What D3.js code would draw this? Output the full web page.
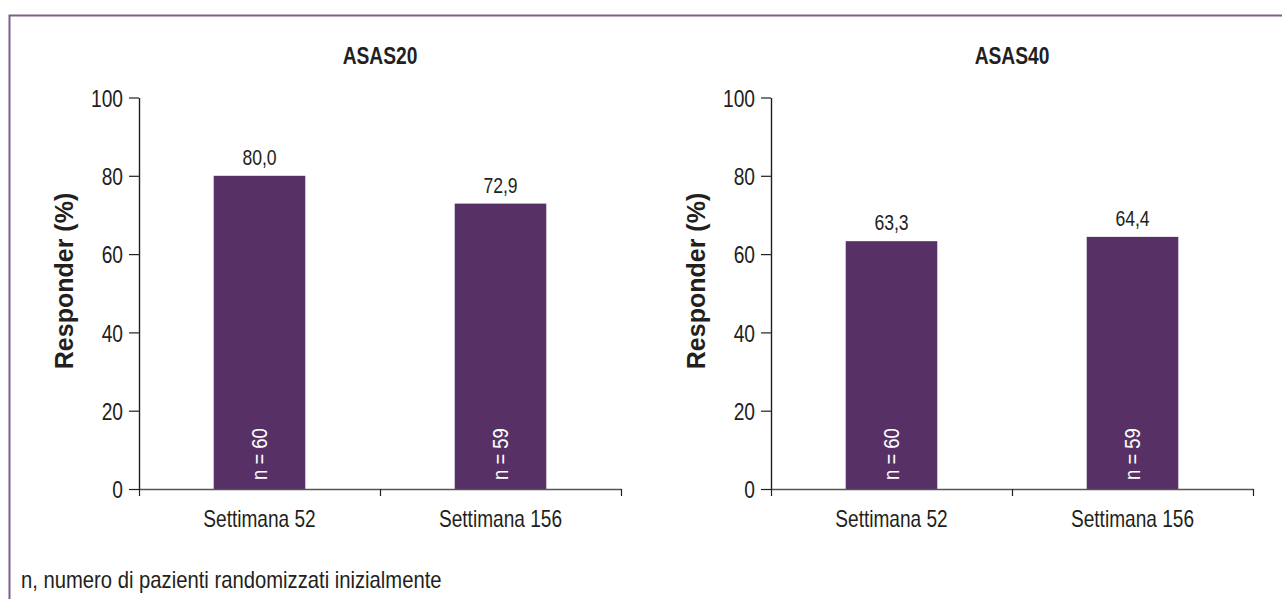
<!DOCTYPE html>
<html>
<head>
<meta charset="utf-8">
<script src="https://cdn.jsdelivr.net/npm/d3@7/dist/d3.min.js"></script>
<style>
  html, body { margin: 0; padding: 0; background: #fff; }
  svg { display: block; }
  text { font-family: "Liberation Sans", Arial, Helvetica, sans-serif; fill: #231f20; }
</style>
</head>
<body>
<svg id="chart" width="1282" height="599"></svg>
<script>
// Responder rates by week, two outcome measures
const categories = ["Settimana 52", "Settimana 156"];
const panelTitles = ["ASAS20", "ASAS40"];
const asas20 = [80.0, 72.9];
const asas40 = [63.3, 64.4];
const sampleSizes = [60, 59];
const yTicks = [0, 20, 40, 60, 80, 100];
const yLabel = "Responder (%)";
const footnote = "n, numero di pazienti randomizzati inizialmente";

const panels = [
  { title: panelTitles[0], values: asas20, x0: 139 },
  { title: panelTitles[1], values: asas40, x0: 771 }
];

const svg = d3.select("#chart");
const barColor = "#573165";
const panelWidth = 482;
const yTop = 97.5, yBottom = 489;
const SX = 0.8; // horizontal squeeze giving a condensed face

// Place a text at (x, y), optionally rotated, with condensed glyphs
function place(sel, fx, fy, rot = 0, sx = SX) {
  sel.attr("transform", (d, i) =>
    `translate(${fx(d, i)},${fy(d, i)})` + (rot ? ` rotate(${rot})` : "") + ` scale(${sx},1)`);
  return sel;
}

// Frame (top and left edges)
svg.append("path")
  .attr("d", "M9.5,599V15.5H1282")
  .attr("fill", "none")
  .attr("stroke", "#7d5f8d")
  .attr("stroke-width", 2);

const fmt = v => d3.format(".1f")(v).replace(".", ",");

const y = d3.scaleLinear().domain([0, 100]).range([yBottom, yTop]);

panels.forEach(p => {
  const g = svg.append("g");
  const x = d3.scaleBand()
    .domain(categories)
    .range([p.x0, p.x0 + panelWidth])
    .paddingInner(0.62)
    .paddingOuter(0.31);
  const edges = d3.scaleLinear().domain([0, categories.length]).range([p.x0, p.x0 + panelWidth]);
  const cx = i => x(categories[i]) + x.bandwidth() / 2;

  // Bars
  g.selectAll("rect.bar")
    .data(p.values)
    .join("rect")
    .attr("class", "bar")
    .attr("x", (d, i) => x(categories[i]))
    .attr("width", x.bandwidth())
    .attr("y", d => y(d))
    .attr("height", d => y(0) - y(d))
    .attr("fill", barColor);

  // Value labels above bars
  place(g.selectAll("text.val")
    .data(p.values)
    .join("text")
    .attr("class", "val")
    .attr("text-anchor", "middle")
    .style("font-size", "22px")
    .text(d => fmt(d)), (d, i) => cx(i), d => y(d) - 11, 0, 0.8);

  // Sample size inside bars
  place(g.selectAll("text.n")
    .data(sampleSizes)
    .join("text")
    .attr("class", "n")
    .attr("dy", "0.36em")
    .attr("text-anchor", "start")
    .style("font-size", "22px")
    .style("fill", "#fff")
    .text(d => `n = ${d}`), (d, i) => cx(i), () => yBottom - 9, -90, 0.84);

  // Y axis
  const yAxis = g.append("g")
    .attr("transform", `translate(${p.x0},0)`)
    .call(d3.axisLeft(y).tickValues(yTicks).tickSize(10).tickSizeOuter(0).tickPadding(6));
  yAxis.select(".domain").attr("stroke", "#231f20").attr("stroke-width", 1.4);
  yAxis.selectAll(".tick line").attr("stroke", "#231f20").attr("stroke-width", 1.2);
  yAxis.selectAll(".tick text")
    .attr("x", 0)
    .attr("dy", "0.36em")
    .attr("transform", `translate(-16,0) scale(${SX},1)`)
    .style("font-size", "24px")
    .style("font-family", "'Liberation Sans', Arial, sans-serif")
    .attr("fill", "#231f20");

  // X axis with ticks at category boundaries
  const xAxis = g.append("g")
    .attr("transform", `translate(0,${yBottom})`)
    .call(d3.axisBottom(edges).tickValues(d3.range(categories.length + 1)).tickSize(7).tickSizeOuter(0).tickFormat(""));
  xAxis.select(".domain").attr("stroke", "#555").attr("stroke-width", 1.6);
  xAxis.selectAll(".tick line").attr("stroke", "#231f20").attr("stroke-width", 1.2);

  // Category labels
  place(g.selectAll("text.cat")
    .data(categories)
    .join("text")
    .attr("class", "cat")
    .attr("text-anchor", "middle")
    .style("font-size", "23px")
    .text(d => d), (d, i) => cx(i), () => 527, 0, 0.83);

  // Panel title
  place(g.append("text")
    .attr("text-anchor", "middle")
    .style("font-size", "24px")
    .style("font-weight", "bold")
    .text(p.title), () => p.x0 + panelWidth / 2, () => 64, 0, 0.8);

  // Y axis title
  place(g.append("text")
    .attr("text-anchor", "middle")
    .style("font-size", "25px")
    .style("font-weight", "bold")
    .text(yLabel), () => p.x0 - 66, () => 281, -90, 1.0);
});

// Footnote
place(svg.append("text")
  .style("font-size", "23px")
  .text(footnote), () => 21, () => 588, 0, 0.88);
</script>
</body>
</html>
